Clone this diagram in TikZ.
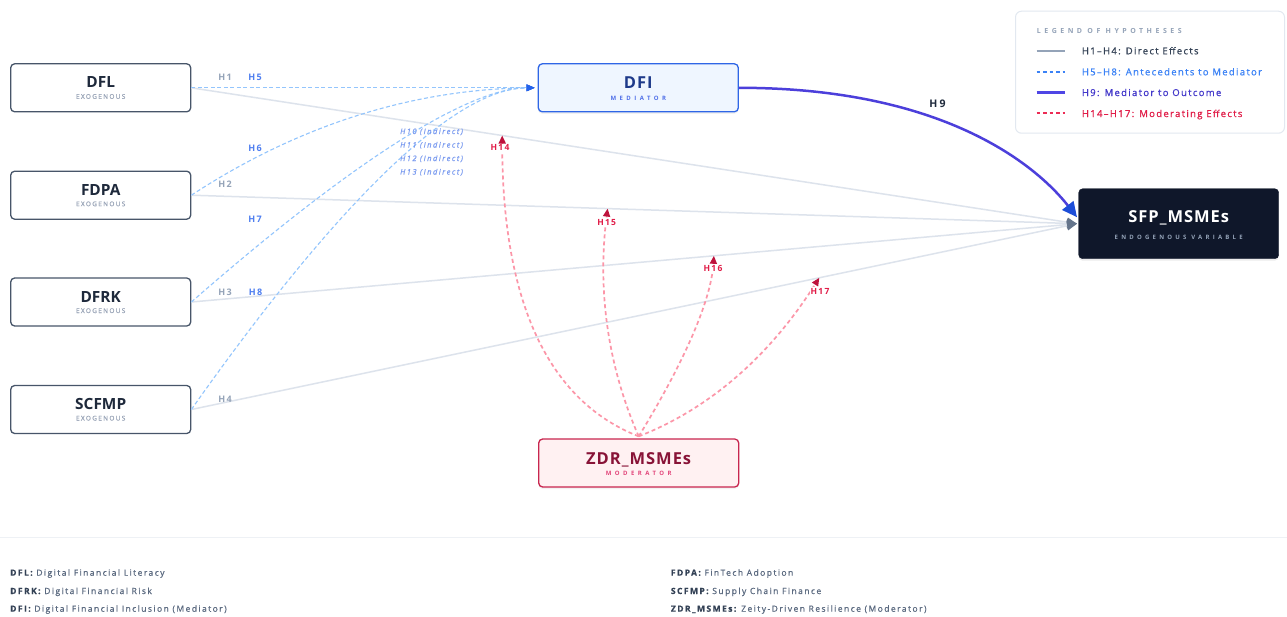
\documentclass[tikz,border=0pt]{standalone}
\usepackage{fontspec}
\setmainfont{Open Sans}
\usetikzlibrary{arrows.meta,calc,shadows}
\definecolor{exoborder}{HTML}{475569}
\definecolor{exotext}{HTML}{1E293B}
\definecolor{exosub}{HTML}{9AA5B8}
\definecolor{dfiborder}{HTML}{2F66E6}
\definecolor{dfifill}{HTML}{EFF6FF}
\definecolor{dfitext}{HTML}{1E3A8A}
\definecolor{dfisub}{HTML}{4F6FE8}
\definecolor{sfpfill}{HTML}{0F172A}
\definecolor{sfpsub}{HTML}{94A3B8}
\definecolor{zdrborder}{HTML}{C8264F}
\definecolor{zdrfill}{HTML}{FFF1F2}
\definecolor{zdrtext}{HTML}{881337}
\definecolor{zdrsub}{HTML}{E2457A}
\definecolor{directc}{HTML}{DDE3EC}
\definecolor{arrowgray}{HTML}{64748B}
\definecolor{hgrayc}{HTML}{94A3B8}
\definecolor{medc}{HTML}{93C5FD}
\definecolor{medarrow}{HTML}{2563EB}
\definecolor{hbluec}{HTML}{4F7FF0}
\definecolor{indc}{HTML}{7C9CF0}
\definecolor{modc}{HTML}{FC96A8}
\definecolor{modarrow}{HTML}{BE123C}
\definecolor{hredc}{HTML}{E11D48}
\definecolor{hnine}{HTML}{4C3FDB}
\definecolor{hninearrow}{HTML}{1D4ED8}
\definecolor{legborder}{HTML}{E2E8F0}
\definecolor{legtitle}{HTML}{94A3B8}
\definecolor{legdark}{HTML}{334155}
\definecolor{legblue}{HTML}{3B82F6}
\definecolor{legblueline}{HTML}{3B82F6}
\definecolor{legindigo}{HTML}{4338CA}
\definecolor{legindigoline}{HTML}{4F46E5}
\definecolor{legred}{HTML}{E11D48}
\definecolor{legredline}{HTML}{EC2C55}
\definecolor{footbold}{HTML}{334155}
\definecolor{foottext}{HTML}{5B6A80}
\definecolor{sepc}{HTML}{EEF1F5}
\newcommand\fsz[1]{\fontsize{#1}{#1}\selectfont}
\newcommand\lsp[1]{\addfontfeature{LetterSpace=#1}}
\newcommand\fbd[2]{\addfontfeatures{LetterSpace=#1,FakeBold=#2}}
\begin{document}
\begin{tikzpicture}[x=1pt,y=-1pt,
  exobox/.style={draw=exoborder, line width=1.3pt, fill=white, rounded corners=4pt, minimum width=180pt, minimum height=48pt, inner sep=0pt},
  dfibox/.style={draw=dfiborder, line width=1.3pt, fill=dfifill, rounded corners=4pt, minimum width=200pt, minimum height=48pt, inner sep=0pt, drop shadow={shadow xshift=0pt, shadow yshift=-2pt, opacity=0.10}},
  zdrbox/.style={draw=zdrborder, line width=1.3pt, fill=zdrfill, rounded corners=4pt, minimum width=200pt, minimum height=48pt, inner sep=0pt, drop shadow={shadow xshift=0pt, shadow yshift=-2pt, opacity=0.10}},
  sfpbox/.style={draw=sfpfill, fill=sfpfill, rounded corners=4pt, minimum width=200pt, minimum height=70pt, inner sep=0pt, drop shadow={shadow xshift=0pt, shadow yshift=-2pt, opacity=0.15}},
  titletext/.style={anchor=base, inner sep=0pt, font={\fsz{15.4}\bfseries}},
  bigtitle/.style={anchor=base, inner sep=0pt, font={\fsz{16.5}\bfseries\lsp{6}}},
  exosubtext/.style={anchor=base, inner sep=0pt, text=exosub, font={\fsz{6.5}\fbd{20}{0.5}}},
  spacedsub/.style={anchor=base, inner sep=0pt, font={\fsz{6}\bfseries\lsp{58}}},
  directline/.style={draw=directc, line width=1.5pt, -{Triangle[length=10pt,width=9pt,color=arrowgray,fill=arrowgray]}},
  medline/.style={draw=medc, line width=1.1pt, dash pattern=on 4pt off 2.5pt, -{Triangle[length=8pt,width=6.5pt,color=medarrow,fill=medarrow]}},
  modline/.style={draw=modc, line width=1.7pt, dash pattern=on 4pt off 3pt, -{Triangle[length=8pt,width=7pt,color=modarrow,fill=modarrow]}},
  h9line/.style={draw=hnine, line width=2.5pt, -{Triangle[length=15pt,width=14pt,color=hninearrow,fill=hninearrow]}},
  hgray/.style={anchor=base, inner sep=0pt, text=hgrayc, font={\fsz{9}\bfseries\lsp{15}}},
  hblue/.style={anchor=base, inner sep=0pt, text=hbluec, font={\fsz{9}\bfseries\lsp{15}}},
  hred/.style={anchor=base, inner sep=1pt, fill=white, text=hredc, font={\fsz{8.5}\bfseries\lsp{15}}},
  indtext/.style={anchor=base west, inner sep=0pt, text=indc, font={\fsz{7.5}\itshape\fbd{20}{0.6}}},
  legtext/.style={anchor=base west, inner sep=0pt, font={\fsz{9.5}\fbd{14}{0.8}}},
  legsample/.style={line width=1.8pt, dash pattern=on 3.5pt off 3pt},
  foot/.style={anchor=base west, inner sep=0pt, text=foottext, font={\fsz{8.5}\fbd{17}{0.7}}}
]
\useasboundingbox (0,0) rectangle (1287,616);
\fill[white] (0,0) rectangle (1287,616);

% nodes (boxes)
\node[exobox] (DFL)   at (100.7,87.8) {};
\node[exobox] (FDPA)  at (100.7,195.2) {};
\node[exobox] (DFRK)  at (100.7,302) {};
\node[exobox] (SCFMP) at (100.7,409.5) {};
\node[dfibox] (DFI)   at (638.3,87.8) {};
\node[sfpbox] (SFP)   at (1178.7,223.7) {};
\node[zdrbox] (ZDR)   at (638.7,463) {};

% connector ends
\coordinate (dend) at ([xshift=-1.5pt]SFP.west);
\coordinate (h9end) at ([shift={(-1.5pt,6.5pt)}]SFP.west);
\coordinate (dfin) at ([xshift=-3pt]DFI.west);
\coordinate (zt) at ([yshift=2pt]ZDR.north);

% direct effects
\draw[directline] (DFL.east) -- (dend);
\draw[directline] (FDPA.east) -- (dend);
\draw[directline] (DFRK.east) -- (dend);
\draw[directline] (SCFMP.east) -- (dend);
\path (DFL.east) -- (dend) coordinate[pos=0.351] (m1);
\path (FDPA.east) -- (dend) coordinate[pos=0.47] (m2);
\path (DFRK.east) -- (dend) coordinate[pos=0.59] (m3);
\path (SCFMP.east) -- (dend) coordinate[pos=0.709] (m4);

% antecedents to mediator
\coordinate (c6) at (352,90);
\coordinate (c7) at (436,88);
\coordinate (c8) at (418,88);
\draw[medline] (DFL.east) -- (dfin);
\draw[medline] (FDPA.east) .. controls ($(FDPA.east)!2/3!(c6)$) and ($(dfin)!2/3!(c6)$) .. (dfin);
\draw[medline] (DFRK.east) .. controls ($(DFRK.east)!2/3!(c7)$) and ($(dfin)!2/3!(c7)$) .. (dfin);
\draw[medline] (SCFMP.east) .. controls ($(SCFMP.east)!2/3!(c8)$) and ($(dfin)!2/3!(c8)$) .. (dfin);

% moderating effects
\coordinate (r14) at (502,383);
\coordinate (r15) at (592,330);
\coordinate (r16) at (710,320);
\coordinate (r17) at (745,395);
\draw[modline] (zt) .. controls ($(zt)!2/3!(r14)$) and ($(m1)!2/3!(r14)$) .. (m1);
\draw[modline] (zt) .. controls ($(zt)!2/3!(r15)$) and ($(m2)!2/3!(r15)$) .. (m2);
\draw[modline] (zt) .. controls ($(zt)!2/3!(r16)$) and ($(m3)!2/3!(r16)$) .. (m3);
\draw[modline] (zt) .. controls ($(zt)!2/3!(r17)$) and ($(m4)!2/3!(r17)$) .. (m4);

% mediator to outcome
\draw[h9line] (DFI.east) .. controls (950,87.8) and (1040,170) .. (h9end);

% box texts
\node[titletext, text=exotext] (tDFL) at (DFL.center) {DFL};
\node[exosubtext] (sDFL) at ([yshift=-11pt]DFL.center) {EXOGENOUS};
\node[titletext, text=exotext] (tFDPA) at (FDPA.center) {FDPA};
\node[exosubtext] (sFDPA) at ([yshift=-11pt]FDPA.center) {EXOGENOUS};
\node[titletext, text=exotext] (tDFRK) at (DFRK.center) {DFRK};
\node[exosubtext] (sDFRK) at ([yshift=-11pt]DFRK.center) {EXOGENOUS};
\node[titletext, text=exotext] (tSCFMP) at (SCFMP.center) {SCFMP};
\node[exosubtext] (sSCFMP) at ([yshift=-11pt]SCFMP.center) {EXOGENOUS};
\node[bigtitle, text=dfitext] (tDFI) at ([yshift=-1pt]DFI.center) {DFI};
\node[spacedsub, text=dfisub] (sDFI) at ([yshift=-12.8pt]DFI.center) {MEDIATOR};
\node[bigtitle, text=white] (tSFP) at ([yshift=1pt]SFP.center) {SFP\_MSMEs};
\node[spacedsub, text=sfpsub, font={\fsz{6}\bfseries\lsp{54}}] (sSFP) at ([yshift=-15.5pt]SFP.center) {ENDOGENOUS VARIABLE};
\node[bigtitle, text=zdrtext] (tZDR) at ([yshift=-1pt]ZDR.center) {ZDR\_MSMEs};
\node[spacedsub, text=zdrsub] (sZDR) at ([yshift=-12pt]ZDR.center) {MODERATOR};

% hypothesis labels
\node[hgray] (lH1) at (225,80.7) {H1};
\node[hgray] (lH2) at (225,187.7) {H2};
\node[hgray] (lH3) at (225,295) {H3};
\node[hgray] (lH4) at (225,402) {H4};
\node[hblue] (lH5) at (255,80.7) {H5};
\node[hblue] (lH6) at (255,151.7) {H6};
\node[hblue] (lH7) at (255,222.3) {H7};
\node[hblue] (lH8) at (255.6,295) {H8};
\node[indtext] (lH10) at (400,134) {H10 (Indirect)};
\node[indtext] (lH11) at (400,147.5) {H11 (Indirect)};
\node[indtext] (lH12) at (400,161) {H12 (Indirect)};
\node[indtext] (lH13) at (400,174.5) {H13 (Indirect)};
\node[hred] (lH14) at (500,150.7) {H14};
\node[hred] (lH15) at (606.7,225) {H15};
\node[hred] (lH16) at (713,271.7) {H16};
\node[hred] (lH17) at (820,294.3) {H17};
\node[anchor=base, inner sep=0pt, text=exotext, font={\fsz{10.5}\bfseries\lsp{20}}] (lH9) at (937.5,107.3) {H9};

% legend
\node[draw=legborder, line width=1pt, rounded corners=6pt, fill=white, minimum width=269pt, minimum height=122pt, anchor=north west, inner sep=0pt] (legend) at (1015,10.7) {};
\node[anchor=base west, inner sep=0pt, text=legtitle, font={\fsz{7}\bfseries\lsp{50}}] (legtitle) at (1036.7,33.3) {LEGEND OF HYPOTHESES};
\draw[draw=hgrayc, line width=2pt] (1036.7,50.7) -- (1065,50.7);
\node[legtext, text=legdark] (leg1) at (1081.7,54.3) {H1–H4: Direct Effects};
\draw[legsample, draw=legblueline] (1036.7,71.7) -- (1065,71.7);
\node[legtext, text=legblue] (leg2) at (1081.7,75.3) {H5–H8: Antecedents to Mediator};
\draw[draw=legindigoline, line width=2.5pt] (1036.7,92.3) -- (1065,92.3);
\node[legtext, text=legindigo] (leg3) at (1081.7,96) {H9: Mediator to Outcome};
\draw[legsample, draw=legredline] (1036.7,113.3) -- (1065,113.3);
\node[legtext, text=legred] (leg4) at (1081.7,117) {H14–H17: Moderating Effects};

% footer
\draw[draw=sepc, line width=1pt] (0,537) -- (1287,537);
\node[foot] (f1) at (10,575.7) {\textcolor{footbold}{\bfseries DFL:} Digital Financial Literacy};
\node[foot] (f2) at (10,594) {\textcolor{footbold}{\bfseries DFRK:} Digital Financial Risk};
\node[foot] (f3) at (10,611.7) {\textcolor{footbold}{\bfseries DFI:} Digital Financial Inclusion (Mediator)};
\node[foot] (f4) at (670.7,575.7) {\textcolor{footbold}{\bfseries FDPA:} FinTech Adoption};
\node[foot] (f5) at (670.7,594) {\textcolor{footbold}{\bfseries SCFMP:} Supply Chain Finance};
\node[foot] (f6) at (670.7,611.7) {\textcolor{footbold}{\bfseries ZDR\_MSMEs:} Zeity-Driven Resilience (Moderator)};
\end{tikzpicture}
\end{document}
